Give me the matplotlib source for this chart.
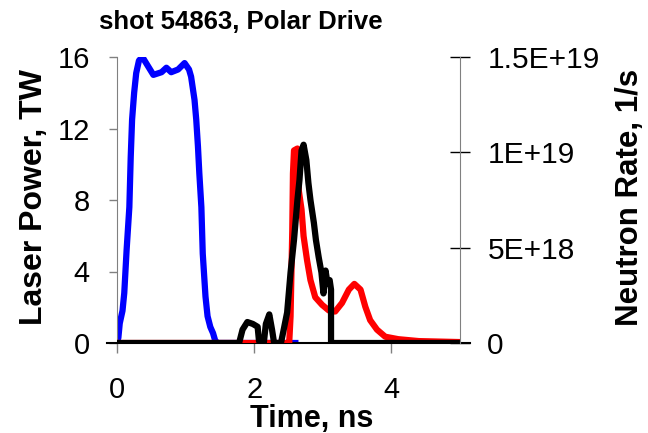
import matplotlib
matplotlib.use("Agg")
import matplotlib.pyplot as plt

plt.rcParams['font.family'] = ['Liberation Sans', 'DejaVu Sans']

# laser power (TW) vs time (ns)
t_laser = [0.0, 0.02, 0.04, 0.08, 0.106, 0.14, 0.18, 0.20, 0.22, 0.25, 0.28, 0.32, 0.37,
           0.45, 0.53, 0.65, 0.72, 0.79, 0.89, 0.985, 1.05, 1.08, 1.13, 1.155, 1.18,
           1.20, 1.23, 1.25, 1.29, 1.32, 1.36, 1.40, 1.43, 1.46, 2.0, 2.6]
p_laser = [0.0, 0.3, 1.1, 1.8, 2.8, 5.2, 7.6, 10.4, 12.5, 14.0, 15.1, 15.8, 16.0,
           15.5, 15.0, 15.15, 15.4, 15.15, 15.3, 15.66, 15.3, 14.9, 13.6, 12.5, 11.0,
           9.5, 7.6, 5.0, 2.6, 1.5, 0.9, 0.55, 0.15, 0.0, 0.0, 0.0]

# simulated neutron rate (1E19 /s)
t_sim = [0.0, 2.45, 2.51, 2.53, 2.555, 2.565, 2.58, 2.63, 2.65, 2.69, 2.72, 2.77, 2.82,
         2.89, 2.99, 3.09, 3.18, 3.28, 3.38, 3.46, 3.55, 3.62, 3.69, 3.79, 3.91, 4.10,
         4.40, 4.98]
r_sim = [0.0, 0.0, 0.0, 0.14, 0.59, 0.89, 1.01, 1.02, 0.80, 0.70, 0.56, 0.435, 0.33,
         0.24, 0.20, 0.17, 0.165, 0.21, 0.28, 0.31, 0.28, 0.19, 0.12, 0.07, 0.033, 0.02,
         0.01, 0.005]

# measured neutron rate (1E19 /s)
t_meas = [0.0, 1.78, 1.83, 1.90, 1.98, 2.05, 2.07, 2.14, 2.17, 2.22, 2.26, 2.29, 2.39,
          2.43, 2.48, 2.53, 2.58, 2.63, 2.66, 2.69, 2.72, 2.76, 2.79, 2.82, 2.87, 2.90,
          2.94, 2.98, 3.01, 3.04, 3.07, 3.10, 3.12, 3.12, 4.98]
r_meas = [0.0, 0.0, 0.07, 0.11, 0.10, 0.085, 0.01, 0.0, 0.10, 0.15, 0.07, 0.0, 0.0,
          0.07, 0.16, 0.37, 0.54, 0.75, 0.855, 1.01, 1.04, 0.96, 0.84, 0.75, 0.63, 0.54,
          0.45, 0.37, 0.26, 0.38, 0.31, 0.33, 0.28, 0.0, 0.0]

left_ticks = [0, 4, 8, 12, 16]
right_ticks = [0, 0.5, 1.0, 1.5]
right_labels = ['0', '5E+18', '1E+19', '1.5E+19']
x_ticks = [0, 2, 4]

fig = plt.figure(figsize=(6.48, 4.33), dpi=100)
ax = fig.add_axes([117/648, 1-343/433, 343/648, 286/433])
ax.plot(t_laser, p_laser, color='#0000ff', lw=4.5, solid_joinstyle='round')
ax.set_xlim(0, 5)
ax.set_ylim(0, 16)
ax.set_xticks(x_ticks)
ax.set_yticks(left_ticks)
ax.tick_params(axis='y', direction='out', length=5.8, width=1, color='#808080',
               labelsize=21, pad=13.7)
ax.tick_params(axis='x', direction='out', length=7, width=1, color='#808080',
               labelsize=21, pad=17)
ax.spines['top'].set_visible(False)
ax.spines['right'].set_visible(False)
ax.spines['left'].set_color('#808080')
ax.spines['bottom'].set_color('black')
ax.spines['bottom'].set_linewidth(1.5)
ax.spines['bottom'].set_bounds(-0.14, 5.14)

ax2 = ax.twinx()
ax2.plot(t_sim, r_sim, color='#ff0000', lw=4.5, solid_joinstyle='round')
ax2.plot(t_meas, r_meas, color='black', lw=4.5, solid_joinstyle='round')
ax2.set_ylim(0, 1.5)
ax2.set_xlim(0, 5)
ax2.set_yticks(right_ticks)
ax2.set_yticklabels(right_labels)
ax2.tick_params(axis='y', direction='inout', length=14.4, width=1, color='black',
                labelsize=21.5, pad=12.5)
for s in ['top', 'left', 'bottom']:
    ax2.spines[s].set_visible(False)
ax2.spines['right'].set_color('#808080')

fig.text(241/648, 1-22/433, 'shot 54863, Polar Drive', ha='center', va='center',
         fontsize=18.5, fontweight='bold')
fig.text(34/648, 1-197/433, 'Laser Power, TW', rotation=90, ha='center', va='center',
         fontsize=23, fontweight='bold')
fig.text(630/648, 1-197/433, 'Neutron Rate, 1/s', rotation=90, ha='center', va='center',
         fontsize=22.5, fontweight='bold')
fig.text(312/648, 1-427/433, 'Time, ns', ha='center', va='baseline',
         fontsize=22, fontweight='bold')

fig.savefig('out.png', dpi=100)
